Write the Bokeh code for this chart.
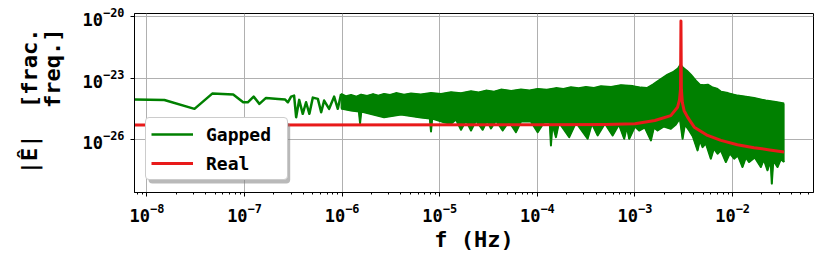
import numpy as np
from bokeh.plotting import figure
from bokeh.models import (Range1d, FixedTicker, LogTickFormatter, Legend, LegendItem,
                          Title, BoxAnnotation)
from bokeh.embed import file_html
from bokeh.resources import INLINE

# ---------------- data ----------------
# "Real" spectrum
real_freq = [7.46e-9, 1.0e-4, 5.0e-4, 1.0e-3, 1.6e-3, 2.33e-3, 2.73e-3, 2.86e-3, 2.93e-3,
             2.96e-3, 2.99e-3, 3.06e-3, 3.19e-3, 3.46e-3, 4.05e-3, 5.55e-3, 7.6e-3,
             1.12e-2, 1.66e-2, 2.4e-2, 3.37e-2]
real_amp = [5.25e-26, 5.3e-26, 5.5e-26, 6.0e-26, 8.7e-26, 1.5e-25, 3.8e-25, 8.7e-25, 2.9e-24,
            6.0e-21, 2.9e-24, 6.5e-25, 2.6e-25, 1.26e-25, 4.1e-26, 1.62e-26, 9.3e-27,
            5.7e-27, 4.1e-27, 3.2e-27, 2.5e-27]

# "Gapped" spectrum, sparse low-frequency part
gapped_low_freq = [7.46e-9, 1.51e-8, 3.07e-8, 4.67e-8, 7.66e-8, 9.69e-8, 1.08e-7, 1.24e-7,
                   1.42e-7, 1.66e-7, 2.21e-7, 2.61e-7, 2.78e-7, 3.0e-7, 3.22e-7, 3.38e-7,
                   3.63e-7, 3.95e-7, 4.27e-7, 4.62e-7, 5.01e-7, 5.64e-7, 6.10e-7, 6.54e-7,
                   7.36e-7, 8.28e-7, 9.03e-7, 9.76e-7]
gapped_low_amp = [9.03e-25, 8.55e-25, 3.20e-25, 1.77e-24, 1.58e-24, 6.68e-25, 6.68e-25, 1.26e-24,
                  5.60e-25, 1.09e-24, 9.77e-25, 9.03e-25, 6.68e-25, 1.26e-24, 1.41e-24, 1.25e-25,
                  8.75e-25, 1.83e-25, 6.68e-25, 1.83e-25, 1.13e-24, 9.77e-25, 2.19e-25, 8.09e-25,
                  3.20e-25, 1.26e-24, 3.20e-25, 1.71e-24]

# "Gapped" spectrum, dense part: upper envelope
gapped_hi_freq = [9.76e-7, 1.10e-6, 1.235e-6, 1.40e-6, 1.563e-6, 1.80e-6, 2.075e-6, 2.35e-6,
                  2.689e-6, 3.1e-6, 3.569e-6, 4.3e-6, 5.08e-6, 6.4e-6, 8.14e-6, 1.03e-5,
                  1.305e-5, 1.65e-5, 2.091e-5, 2.5e-5, 2.977e-5, 3.6e-5, 4.24e-5, 5.4e-5,
                  6.80e-5, 8.3e-5, 1.008e-4, 1.25e-4, 1.551e-4, 1.85e-4, 2.209e-4, 2.65e-4,
                  3.146e-4, 3.8e-4, 4.482e-4, 5.7e-4, 7.18e-4, 9.53e-4, 1.151e-3, 1.326e-3,
                  1.527e-3, 1.844e-3, 2.159e-3, 2.446e-3, 2.752e-3, 2.919e-3, 3.097e-3, 3.403e-3,
                  3.739e-3, 4.207e-3, 4.624e-3, 5.08e-3, 5.58e-3, 6.14e-3, 6.90e-3, 7.59e-3,
                  8.95e-3, 1.125e-2, 1.368e-2, 1.663e-2, 2.191e-2, 2.773e-2, 3.373e-2]
gapped_hi_amp = [1.71e-24, 1.30e-24, 1.50e-24, 1.25e-24, 1.58e-24, 1.35e-24, 1.67e-24, 1.40e-24,
                 1.71e-24, 1.50e-24, 1.87e-24, 1.55e-24, 1.77e-24, 1.60e-24, 1.87e-24, 1.70e-24,
                 2.05e-24, 1.85e-24, 2.29e-24, 2.00e-24, 2.47e-24, 2.20e-24, 2.77e-24, 2.40e-24,
                 2.77e-24, 2.50e-24, 2.99e-24, 2.70e-24, 3.27e-24, 2.95e-24, 3.57e-24, 3.20e-24,
                 3.66e-24, 3.30e-24, 4.00e-24, 3.70e-24, 4.57e-24, 4.09e-24, 3.46e-24, 3.27e-24,
                 4.83e-24, 8.93e-24, 1.48e-23, 1.95e-23, 2.89e-23, 4.52e-23, 3.24e-23, 2.31e-23,
                 1.48e-23, 7.56e-24, 4.83e-24, 4.57e-24, 4.83e-24, 3.66e-24, 3.09e-24, 2.21e-24,
                 1.87e-24, 1.41e-24, 1.26e-24, 1.07e-24, 8.09e-25, 6.84e-25, 5.78e-25]

# "Gapped" spectrum, dense part: lower envelope with its dips
gapped_lo_freq = [9.76e-7, 1.235e-6, 1.484e-6, 1.527e-6, 1.571e-6, 2.689e-6, 4.015e-6, 6.43e-6,
                  7.91e-6, 8.14e-6, 8.37e-6, 1.106e-5, 1.305e-5, 1.468e-5, 1.652e-5, 1.859e-5,
                  2.091e-5, 2.352e-5, 2.755e-5, 3.049e-5, 3.350e-5, 3.770e-5, 4.414e-5, 5.12e-5,
                  6.04e-5, 6.80e-5, 8.60e-5, 1.008e-4, 1.169e-4, 1.340e-4, 1.378e-4, 1.428e-4,
                  1.551e-4, 1.665e-4, 2.122e-4, 2.485e-4, 3.274e-4, 3.624e-4, 4.145e-4, 4.923e-4,
                  5.905e-4, 6.85e-4, 7.76e-4, 8.27e-4, 8.73e-4, 9.99e-4, 1.105e-3, 1.264e-3,
                  1.456e-3, 1.563e-3, 1.706e-3, 1.979e-3, 2.334e-3, 2.626e-3, 2.885e-3, 3.075e-3,
                  3.246e-3, 3.593e-3, 3.920e-3, 4.381e-3, 4.624e-3, 4.929e-3, 5.326e-3, 5.99e-3,
                  6.43e-3, 7.02e-3, 7.59e-3, 8.54e-3, 9.38e-3, 1.038e-2, 1.133e-2, 1.265e-2,
                  1.368e-2, 1.478e-2, 1.690e-2, 1.948e-2, 2.090e-2, 2.281e-2, 2.454e-2, 2.524e-2,
                  2.615e-2, 2.887e-2, 3.121e-2, 3.373e-2]
gapped_lo_amp = [3.30e-25, 2.64e-25, 2.37e-25, 6.40e-26, 2.37e-25, 1.25e-25, 1.69e-25, 1.21e-25,
                 1.08e-25, 2.53e-26, 1.08e-25, 7.14e-26, 5.98e-26, 9.66e-26, 3.05e-26, 8.65e-26,
                 2.82e-26, 8.65e-26, 3.05e-26, 8.65e-26, 3.54e-26, 8.65e-26, 2.82e-26, 7.73e-26,
                 2.34e-26, 7.73e-26, 7.73e-26, 2.34e-26, 6.91e-26, 6.91e-26, 5.29e-27, 5.53e-26,
                 1.34e-26, 6.91e-26, 1.34e-26, 6.91e-26, 1.12e-26, 6.18e-26, 1.62e-26, 6.18e-26,
                 1.62e-26, 5.53e-26, 1.12e-26, 4.43e-26, 1.12e-26, 4.43e-26, 2.82e-26, 3.96e-26,
                 9.25e-27, 3.96e-26, 2.82e-26, 4.43e-26, 3.42e-26, 5.53e-26, 1.08e-25, 1.12e-26,
                 5.53e-26, 2.82e-26, 1.45e-26, 3.03e-27, 9.25e-27, 4.37e-27, 6.61e-27, 1.20e-27,
                 3.78e-27, 2.09e-27, 3.03e-27, 8.18e-28, 2.16e-27, 1.20e-27, 1.73e-27, 4.68e-28,
                 1.38e-27, 8.18e-28, 1.38e-27, 4.68e-28, 1.11e-27, 3.24e-28, 9.89e-28, 7.31e-29,
                 9.89e-28, 4.68e-28, 1.11e-27, 8.18e-28]

x_ticks = [1e-8, 1e-7, 1e-6, 1e-5, 1e-4, 1e-3, 1e-2]
y_ticks = [1e-26, 1e-23, 1e-20]
legend_labels = ["Gapped", "Real"]
x_label = "f (Hz)"
NB = "\u00a0"
y_label = "|Ê|" + NB * 2 + "[frac.\n" + NB * 5 + "freq.]"

GREEN = "#008000"
RED = "#e81a1a"
MONO = "DejaVu Sans Mono"

# ---------------- figure ----------------
p = figure(width=822, height=256, x_axis_type="log", y_axis_type="log",
           x_range=Range1d(7.46e-9, 6.75e-2), y_range=Range1d(2.69e-29, 1.41e-20),
           output_backend="svg", toolbar_location=None,
           min_border_left=133, min_border_right=9, min_border_top=13, min_border_bottom=64)
p.background_fill_color = "white"
p.border_fill_color = "white"
p.outline_line_color = "black"
p.outline_line_width = 1
p.outline_line_alpha = 1

x_minor = [m * d for d in [1e-9, 1e-8, 1e-7, 1e-6, 1e-5, 1e-4, 1e-3, 1e-2] for m in range(2, 10)]
p.xaxis.ticker = FixedTicker(ticks=x_ticks, minor_ticks=x_minor)
p.yaxis.ticker = FixedTicker(ticks=y_ticks, minor_ticks=[])
p.xaxis.formatter = LogTickFormatter()
p.yaxis.formatter = LogTickFormatter()

for ax in (p.xaxis[0], p.yaxis[0]):
    ax.axis_line_color = "black"
    ax.axis_line_width = 1
    ax.major_tick_line_color = "black"
    ax.major_tick_out = 4
    ax.major_tick_in = 0
    ax.minor_tick_line_color = "black"
    ax.minor_tick_out = 2
    ax.minor_tick_in = 0
    ax.major_label_text_font = MONO
    ax.major_label_text_font_style = "bold"
    ax.major_label_text_font_size = "17px"
    ax.major_label_text_color = "black"
    ax.major_label_standoff = 6
p.yaxis.minor_tick_out = 0

p.grid.grid_line_color = "#b0b0b0"
p.grid.grid_line_width = 1
p.grid.grid_line_alpha = 1

# ---------------- glyphs ----------------
band_x = gapped_hi_freq + gapped_lo_freq[::-1]
band_y = gapped_hi_amp + gapped_lo_amp[::-1]
p.patch(band_x, band_y, fill_color=GREEN, fill_alpha=1, line_color=GREEN, line_width=1)
p.line(gapped_hi_freq, gapped_hi_amp, line_color=GREEN, line_width=2, line_join="round")
p.line(gapped_lo_freq, gapped_lo_amp, line_color=GREEN, line_width=2, line_join="round")
r_gap = p.line(gapped_low_freq, gapped_low_amp, line_color=GREEN, line_width=2.5, line_join="round")
r_real = p.line(real_freq, real_amp, line_color=RED, line_width=3, line_join="round")

# ---------------- legend with shadow ----------------
shadow = BoxAnnotation(left=14, right=155.7, bottom=9, top=70,
                       left_units="screen", right_units="screen",
                       top_units="screen", bottom_units="screen",
                       fill_color="#808080", fill_alpha=0.55, line_alpha=0)
try:
    shadow.border_radius = 4
except Exception:
    pass
p.add_layout(shadow)

legend = Legend(items=[LegendItem(label=legend_labels[0], renderers=[r_gap]),
                       LegendItem(label=legend_labels[1], renderers=[r_real])],
                location=(11, 12), orientation="vertical",
                glyph_width=42, glyph_height=22, label_height=22, label_width=76,
                label_standoff=13, padding=5, spacing=7, margin=0,
                border_line_color="#cccccc", border_line_width=1, border_line_alpha=1,
                background_fill_color="white", background_fill_alpha=1,
                label_text_font=MONO, label_text_font_style="bold",
                label_text_font_size="18px", label_text_color="black")
try:
    legend.border_radius = 4
except Exception:
    pass
p.add_layout(legend)

# ---------------- axis titles ----------------
t_x = Title(text=x_label, align="center", standoff=1,
            text_font=MONO, text_font_style="bold", text_font_size="22px",
            text_color="black")
p.add_layout(t_x, "below")

t_y = Title(text=y_label, align="right", offset=15, standoff=29,
            text_font=MONO, text_font_style="bold", text_font_size="22px",
            text_line_height=0.92, text_color="black")
p.add_layout(t_y, "left")

open("out.html", "w").write(file_html(p, INLINE))
